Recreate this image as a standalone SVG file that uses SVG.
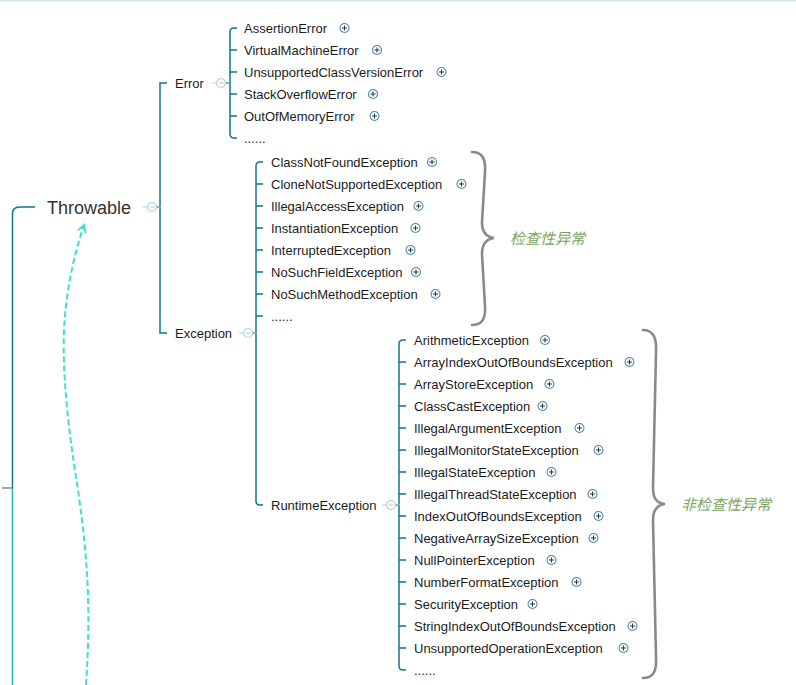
<svg xmlns="http://www.w3.org/2000/svg" width="796" height="685" viewBox="0 0 796 685">
<defs>
<style>
.t{font-family:"Liberation Sans",Arial,sans-serif;font-size:13px;fill:#1c1c1c}
.big{font-size:18px;fill:#333}
.ln{fill:none;stroke:#13748f;stroke-width:1.5}
.pc{fill:#fff;stroke:#4f8ca5;stroke-width:1.1}
.pl{stroke:#2b3b45;stroke-width:1.1}
.cc{fill:#fff;stroke:#b3cfdb;stroke-width:1.1}
.cl{stroke:#b3cfdb;stroke-width:1.1}
.br{fill:none;stroke:#8a8a8a;stroke-width:2.6;stroke-linecap:round}
.lab{font-family:"Liberation Sans","Noto Sans CJK SC",sans-serif;font-size:15px;font-style:italic;fill:#80a35e}
</style>
<symbol id="plus" overflow="visible"><circle class="pc" cx="0" cy="0" r="4.5"/><path class="pl" d="M-2.6,0H2.6M0,-2.6V2.6"/></symbol>
<symbol id="minus" overflow="visible"><path class="cl" d="M-9,0H-5M5,0H9"/><circle class="cc" cx="0" cy="0" r="4.5"/><path class="cl" d="M-2.6,0H2.6"/></symbol>
<marker id="ah" viewBox="0 0 10 10" refX="8" refY="5" markerWidth="10" markerHeight="10" markerUnits="userSpaceOnUse" orient="auto"><path d="M1,1L8,5L1,9" fill="none" stroke="#3fe0d0" stroke-width="2"/></marker>
</defs>
<rect width="796" height="685" fill="#fff"/>
<line x1="0" y1="0.75" x2="796" y2="0.75" stroke="#cfe3ea" stroke-width="1.5"/>

<g id="connectors">
<path class="ln" d="M12.5,488V214Q12.5,207 19.5,207H35"/>
<path d="M12.5,488V685" fill="none" stroke="#17b8aa" stroke-width="1.5"/>
<path d="M2,488H12.5" stroke="#888" stroke-width="1.5"/>
<path class="ln" d="M157,207H160M167,83H160V333H167"/>
<path class="ln" d="M226,83H230M237,28H234Q230,28 230,32V134Q230,138 234,138H237M230,50H237M230,72H237M230,94H237M230,116H237"/>
<path class="ln" d="M253,333H256M263,162H260Q256,162 256,166V501Q256,505 260,505H263M256,184H263M256,206H263M256,228H263M256,250H263M256,272H263M256,294H263M256,316H263"/>
<path class="ln" d="M396,505H399M406,340H403Q399,340 399,344V666Q399,670 403,670H406M399,362H406M399,384H406M399,406H406M399,428H406M399,450H406M399,472H406M399,494H406M399,516H406M399,538H406M399,560H406M399,582H406M399,604H406M399,626H406M399,648H406"/>
<path d="M86,685C91,610 88,560 78,490C70,440 62,380 64,330C66,290 74,255 84,225" fill="none" stroke="#3fe0d0" stroke-width="2" stroke-dasharray="6,3" marker-end="url(#ah)"/>
</g>

<g id="throwable"><text class="t big" x="47" y="213.5">Throwable</text><use href="#minus" x="152" y="207"/></g>
<g id="error"><text class="t" x="175" y="87.5">Error</text><use href="#minus" x="221" y="83"/></g>
<g id="exception"><text class="t" x="175" y="337.5">Exception</text><use href="#minus" x="248" y="333"/></g>
<g id="runtimeexception"><text class="t" x="271" y="509.5">RuntimeException</text><use href="#minus" x="391" y="505"/></g>

<g id="error-children">
<g id="assertionerror"><text class="t" x="244" y="32.5">AssertionError</text><use href="#plus" x="344.5" y="28"/></g>
<g id="virtualmachineerror"><text class="t" x="244" y="54.5">VirtualMachineError</text><use href="#plus" x="377" y="50"/></g>
<g id="unsupportedclassversionerror"><text class="t" x="244" y="76.5">UnsupportedClassVersionError</text><use href="#plus" x="441.5" y="72"/></g>
<g id="stackoverflowerror"><text class="t" x="244" y="98.5">StackOverflowError</text><use href="#plus" x="373" y="94"/></g>
<g id="outofmemoryerror"><text class="t" x="244" y="120.5">OutOfMemoryError</text><use href="#plus" x="374.5" y="116"/></g>
<g id="error-more"><text class="t" x="244" y="142.5">......</text></g>
</g>

<g id="checked-children">
<g id="classnotfoundexception"><text class="t" x="271" y="166.5">ClassNotFoundException</text><use href="#plus" x="432" y="162"/></g>
<g id="clonenotsupportedexception"><text class="t" x="271" y="188.5">CloneNotSupportedException</text><use href="#plus" x="461.5" y="184"/></g>
<g id="illegalaccessexception"><text class="t" x="271" y="210.5">IllegalAccessException</text><use href="#plus" x="418.5" y="206"/></g>
<g id="instantiationexception"><text class="t" x="271" y="232.5">InstantiationException</text><use href="#plus" x="415.5" y="228"/></g>
<g id="interruptedexception"><text class="t" x="271" y="254.5">InterruptedException</text><use href="#plus" x="410.5" y="250"/></g>
<g id="nosuchfieldexception"><text class="t" x="271" y="276.5">NoSuchFieldException</text><use href="#plus" x="416" y="272"/></g>
<g id="nosuchmethodexception"><text class="t" x="271" y="298.5">NoSuchMethodException</text><use href="#plus" x="435.5" y="294"/></g>
<g id="checked-more"><text class="t" x="271" y="320.5">......</text></g>
</g>

<g id="runtime-children">
<g id="arithmeticexception"><text class="t" x="414" y="344.5">ArithmeticException</text><use href="#plus" x="545" y="340"/></g>
<g id="arrayindexoutofboundsexception"><text class="t" x="414" y="366.5">ArrayIndexOutOfBoundsException</text><use href="#plus" x="629.5" y="362"/></g>
<g id="arraystoreexception"><text class="t" x="414" y="388.5">ArrayStoreException</text><use href="#plus" x="549.5" y="384"/></g>
<g id="classcastexception"><text class="t" x="414" y="410.5">ClassCastException</text><use href="#plus" x="542.5" y="406"/></g>
<g id="illegalargumentexception"><text class="t" x="414" y="432.5">IllegalArgumentException</text><use href="#plus" x="579.5" y="428"/></g>
<g id="illegalmonitorstateexception"><text class="t" x="414" y="454.5">IllegalMonitorStateException</text><use href="#plus" x="598.5" y="450"/></g>
<g id="illegalstateexception"><text class="t" x="414" y="476.5">IllegalStateException</text><use href="#plus" x="551.5" y="472"/></g>
<g id="illegalthreadstateexception"><text class="t" x="414" y="498.5">IllegalThreadStateException</text><use href="#plus" x="592.5" y="494"/></g>
<g id="indexoutofboundsexception"><text class="t" x="414" y="520.5">IndexOutOfBoundsException</text><use href="#plus" x="598.5" y="516"/></g>
<g id="negativearraysizeexception"><text class="t" x="414" y="542.5">NegativeArraySizeException</text><use href="#plus" x="593.5" y="538"/></g>
<g id="nullpointerexception"><text class="t" x="414" y="564.5">NullPointerException</text><use href="#plus" x="551.5" y="560"/></g>
<g id="numberformatexception"><text class="t" x="414" y="586.5">NumberFormatException</text><use href="#plus" x="576.5" y="582"/></g>
<g id="securityexception"><text class="t" x="414" y="608.5">SecurityException</text><use href="#plus" x="532.5" y="604"/></g>
<g id="stringindexoutofboundsexception"><text class="t" x="414" y="630.5">StringIndexOutOfBoundsException</text><use href="#plus" x="632.5" y="626"/></g>
<g id="unsupportedoperationexception"><text class="t" x="414" y="652.5">UnsupportedOperationException</text><use href="#plus" x="623.5" y="648"/></g>
<g id="runtime-more"><text class="t" x="414" y="674.5">......</text></g>
</g>

<g id="checked-brace">
<path class="br" d="M472,152C481,152 486,157 485,172L482,222C482,232 486,237 494,238C486,239 482,244 482,254L485,306C486,320 481,325 472,325"/>
<text class="lab" x="510" y="243.5">检查性异常</text>
</g>
<g id="unchecked-brace">
<path class="br" d="M643,330C652,330 657,336 656,352L653,488C653,499 657,503 665,504C657,505 653,510 653,520L656,657C657,673 652,678 643,678"/>
<text class="lab" x="681" y="509.5">非检查性异常</text>
</g>
</svg>
